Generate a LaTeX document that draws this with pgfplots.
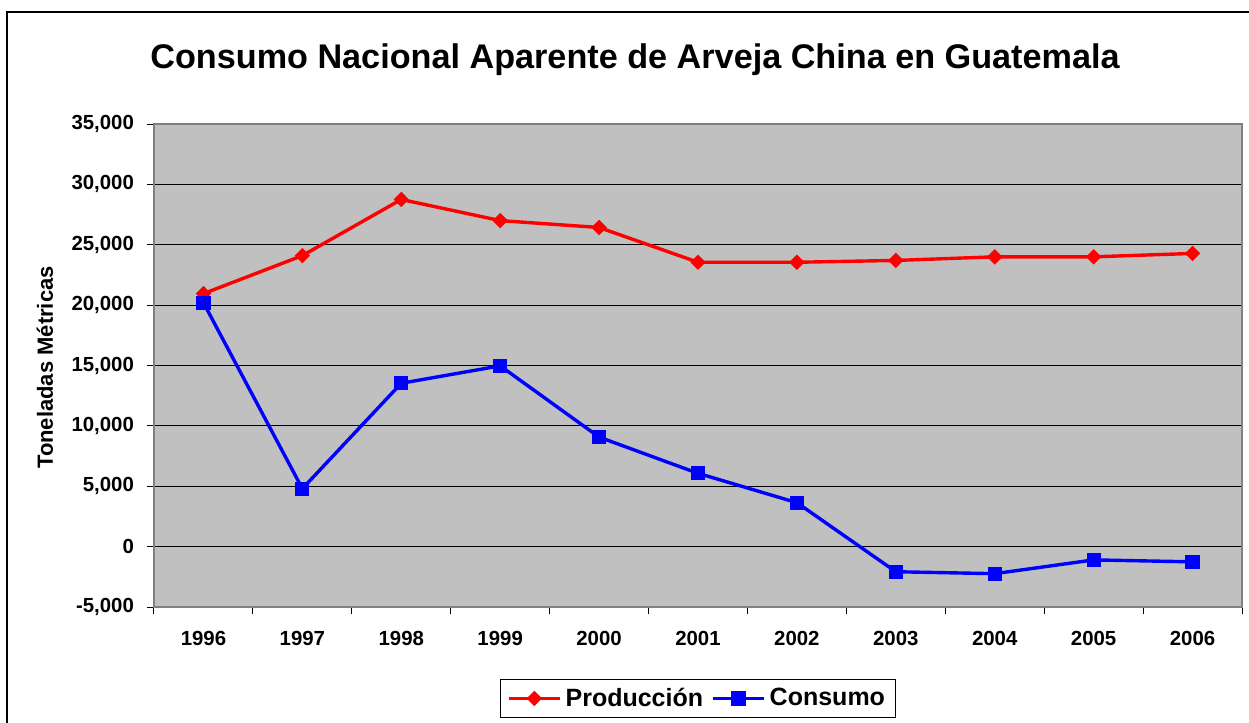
\documentclass[border=0pt]{standalone}
\usepackage{pgfplots}
\pgfplotsset{compat=1.18}
\usepackage{fontspec}
\setmainfont{Liberation Sans}

\definecolor{plotbg}{RGB}{192,192,192}
\definecolor{boxgray}{RGB}{128,128,128}

% one unit = one pixel of the reference (0.5pt); origin = lower left of plot area
\begin{document}
\begin{tikzpicture}[x=0.5pt,y=0.5pt]
  \useasboundingbox (-154,-116) rectangle (1095,607);
  % outer chart frame (right and bottom edges fall outside the picture)
  \draw[black, line width=0.6pt] (-147,-140) -- (-147,595) -- (1120,595);

  \node[font=\bfseries\fontsize{17.1}{20}\selectfont] at (481,547)
    {Consumo Nacional Aparente de Arveja China en Guatemala};
  \node[rotate=90, font=\bfseries\fontsize{11}{13}\selectfont] at (-109,239.5)
    {Toneladas Métricas};

  \begin{axis}[
      at={(0,0)}, anchor=south west,
      scale only axis,
      width=544pt, height=241.5pt,
      xmin=-0.5, xmax=10.5,
      ymin=-5000, ymax=35000,
      xtick={-0.5,0.5,...,10.5},
      x tick label as interval,
      xticklabels={1996,1997,1998,1999,2000,2001,2002,2003,2004,2005,2006},
      ytick={-5000,0,...,35000},
      tick align=outside,
      major tick length=3.5pt,
      tick style={black, line width=0.5pt},
      xtick pos=bottom, ytick pos=left,
      ymajorgrids,
      grid style={black, line width=0.5pt},
      axis background/.style={fill=plotbg},
      axis line style={boxgray, line width=0.6pt},
      /pgf/number format/assume math mode=true,
      /pgf/number format/fixed,
      /pgf/number format/1000 sep={,},
      scaled y ticks=false,
      tick label style={font=\bfseries\fontsize{10.2}{12}\selectfont},
      yticklabel style={xshift=-3pt},
      xticklabel style={yshift=-5pt},
      legend style={at={(0.5,-0.1894)}, anchor=center, legend columns=2,
        draw=black, line width=0.5pt, fill=white,
        font=\bfseries\fontsize{12.5}{15}\selectfont,
        inner xsep=3pt, inner ysep=2pt,
        /tikz/every even column/.append style={column sep=2pt}},
      legend image code/.code={
        \draw[#1] (0cm,0cm) -- (0.9cm,0cm);
        \draw[#1, only marks] plot coordinates {(0.45cm,0cm)};},
    ]
    \addplot[red, line width=1.7pt, mark=diamond*, mark size=3.5pt,
      mark options={solid, fill=red, line width=0.5pt, xscale=1.33}]
      coordinates {
        (0,20950) (1,24100) (2,28750) (3,27000) (4,26430) (5,23550)
        (6,23550) (7,23700) (8,24000) (9,24000) (10,24280)
      };
    \addplot[blue, line width=1.7pt, mark=square*, mark size=3.3pt,
      mark options={solid, fill=blue, line width=0.5pt}]
      coordinates {
        (0,20200) (1,4800) (2,13530) (3,14970) (4,9070) (5,6070)
        (6,3640) (7,-2080) (8,-2240) (9,-1100) (10,-1260)
      };
    \legend{Producción, Consumo}
  \end{axis}
\end{tikzpicture}
\end{document}
